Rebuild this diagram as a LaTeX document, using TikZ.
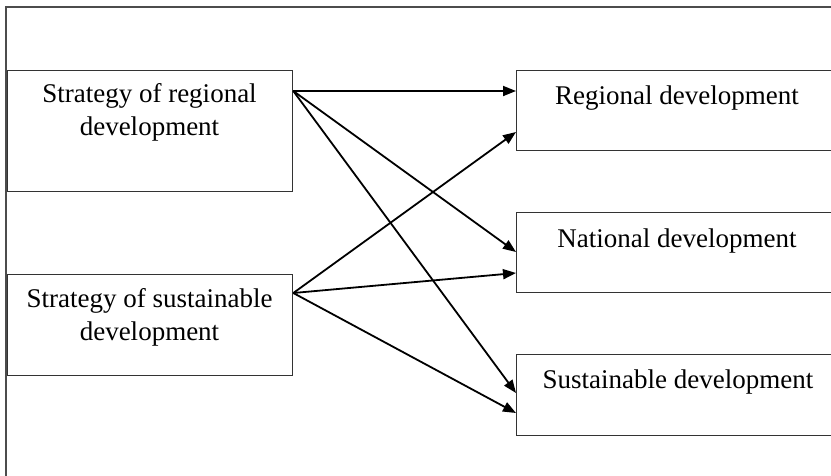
\documentclass[tikz,border=0pt]{standalone}
\usepackage{fontspec}
\setmainfont{Liberation Serif}
\usetikzlibrary{arrows.meta}
\begin{document}
\begin{tikzpicture}[x=1pt,y=-1pt,
  box/.style={draw=black!80, line width=1.3pt, inner sep=0pt, anchor=north west},
  lbl/.style={font=\fontsize{27}{33}\selectfont, align=center, inner sep=0pt, anchor=base},
  arr/.style={line width=1.8pt, -{Triangle[length=13pt,width=10pt]}}]
\clip (0,0) rectangle (831,475);
\useasboundingbox (0,0) rectangle (831,475);
% frame
\draw[black!70, line width=1.2pt] (6,480) -- (6,7) -- (840,7);
% boxes
\node[box, minimum width=285, minimum height=121] (L1) at (7,70) {};
\node[box, minimum width=285, minimum height=101] (L2) at (7,274) {};
\node[box, minimum width=324, minimum height=80] (R1) at (516,70) {};
\node[box, minimum width=324, minimum height=80] (R2) at (516,212) {};
\node[box, minimum width=324, minimum height=81] (R3) at (516,354) {};
% labels
\node[lbl] (t1) at (149.5,135) {Strategy of regional\\development};
\node[lbl] (t2) at (149.5,340) {Strategy of sustainable\\development};
\node[lbl] (t3) at (677,104) {Regional development};
\node[lbl] (t4) at (677,247) {National development};
\node[lbl] (t5) at (678,388) {Sustainable development};
% connector points
\coordinate (a) at ([yshift=-21pt]L1.north east);
\coordinate (b) at ([yshift=-19pt]L2.north east);
\coordinate (r1) at ([yshift=-21pt]R1.north west);
\coordinate (r2) at ([yshift=-62pt]R1.north west);
\coordinate (n1) at ([yshift=-40pt]R2.north west);
\coordinate (n2) at ([yshift=-61pt]R2.north west);
\coordinate (s1) at ([yshift=-39pt]R3.north west);
\coordinate (s2) at ([yshift=-59pt]R3.north west);
\draw[arr] (a) -- (r1);
\draw[arr] (a) -- (n1);
\draw[arr] (a) -- (s1);
\draw[arr] (b) -- (r2);
\draw[arr] (b) -- (n2);
\draw[arr] (b) -- (s2);
\end{tikzpicture}
\end{document}
